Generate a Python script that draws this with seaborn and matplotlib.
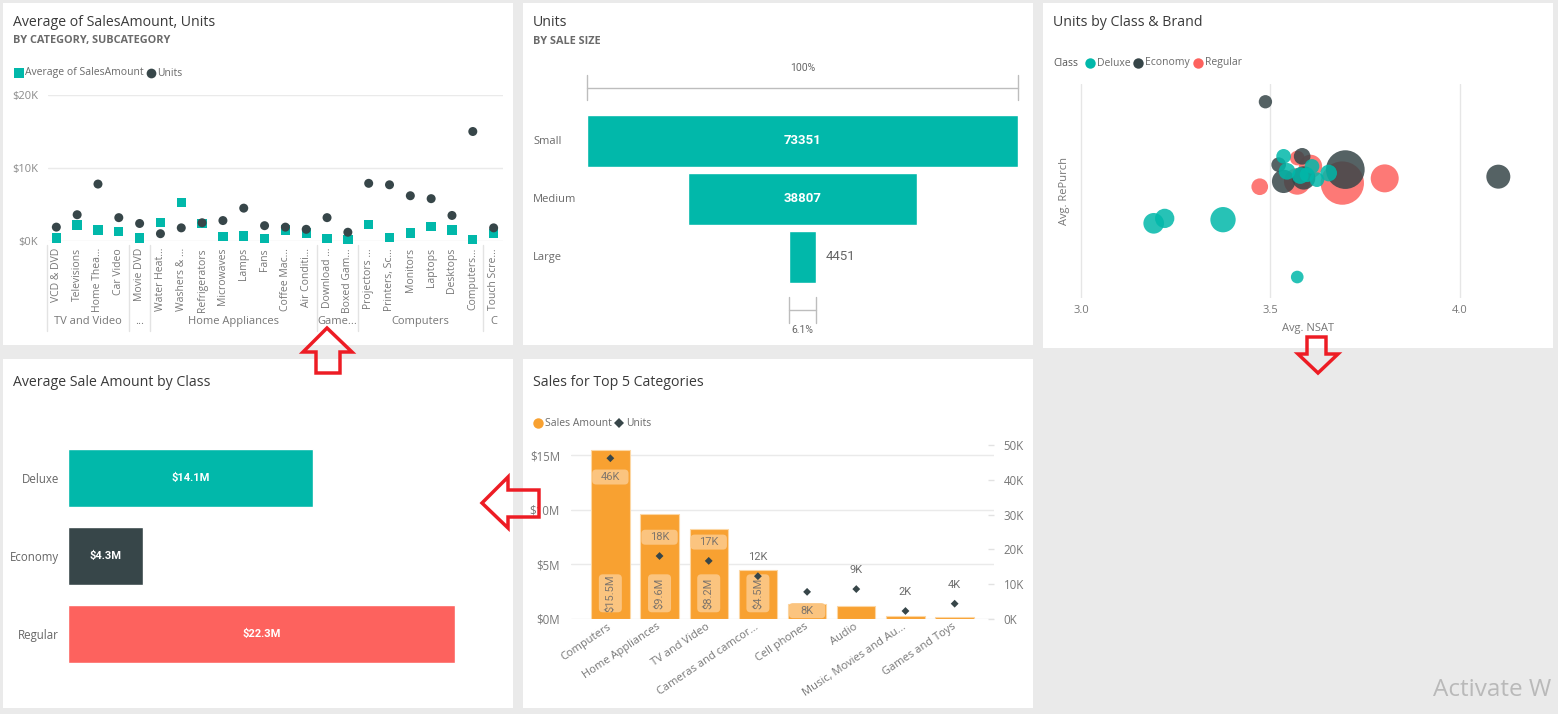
import numpy as np
import pandas as pd
import matplotlib
matplotlib.use("Agg")
import matplotlib.pyplot as plt
import matplotlib.transforms as mtransforms
from matplotlib.patches import Rectangle, Polygon, FancyBboxPatch
from matplotlib.lines import Line2D
import seaborn as sns

# ---------------- data ----------------
# Panel 1: Average of SalesAmount, Units by category / subcategory
sub_categories = ["VCD & DVD", "Televisions", "Home Thea...", "Car Video", "Movie DVD",
                  "Water Heat...", "Washers & ...", "Refrigerators", "Microwaves", "Lamps",
                  "Fans", "Coffee Mac...", "Air Conditi...", "Download ...", "Boxed Gam...",
                  "Projectors ...", "Printers, Sc...", "Monitors", "Laptops", "Desktops",
                  "Computers...", "Touch Scre..."]
sub_groups = ["TV and Video", "TV and Video", "TV and Video", "TV and Video", "...",
              "Home Appliances", "Home Appliances", "Home Appliances", "Home Appliances",
              "Home Appliances", "Home Appliances", "Home Appliances", "Home Appliances",
              "Game...", "Game...", "Computers", "Computers", "Computers", "Computers",
              "Computers", "Computers", "C"]
avg_sales_amount = [400, 2200, 1500, 1300, 400, 2500, 5300, 2400, 600, 700, 350,
                    1500, 1100, 300, 200, 2300, 500, 1100, 2000, 1500, 200, 1000]
sub_units = [1900, 3600, 7800, 3200, 2400, 1000, 1800, 2500, 2800, 4500, 2100,
             1900, 1600, 3200, 1200, 7900, 7700, 6200, 5800, 3500, 15000, 1800]

# Panel 2: Units by sale size (funnel)
sale_sizes = ["Small", "Medium", "Large"]
sale_size_units = [73351, 38807, 4451]

# Panel 3: Units by Class & Brand (bubbles)
bubble_class = ["Regular", "Regular", "Regular", "Regular", "Regular", "Regular",
                "Economy", "Economy", "Economy", "Economy", "Economy", "Economy", "Economy",
                "Deluxe", "Deluxe", "Deluxe", "Deluxe", "Deluxe", "Deluxe", "Deluxe",
                "Deluxe", "Deluxe", "Deluxe", "Deluxe"]
bubble_nsat = [3.472, 3.690, 3.802, 3.571, 3.571, 3.606,
               3.487, 3.698, 4.102, 3.584, 3.522, 3.535, 3.588,
               3.571, 3.192, 3.221, 3.375, 3.535, 3.544, 3.579, 3.610, 3.597, 3.623, 3.654]
bubble_repurch = [0.520, 0.537, 0.559, 0.654, 0.545, 0.615,
                  0.917, 0.600, 0.567, 0.662, 0.623, 0.545, 0.561,
                  0.098, 0.349, 0.372, 0.366, 0.662, 0.592, 0.572, 0.615, 0.576, 0.553, 0.584]
bubble_units = [625, 4225, 1764, 484, 1600, 1225,
                400, 3364, 1296, 625, 484, 1225, 1225,
                361, 961, 841, 1444, 484, 625, 625, 484, 484, 484, 625]

# Panel 4: Average sale amount by class ($M)
classes = ["Deluxe", "Economy", "Regular"]
class_avg_sales_m = [14.1, 4.3, 22.3]

# Panel 5: Sales for top categories
top_categories = ["Computers", "Home Appliances", "TV and Video", "Cameras and camcor...",
                  "Cell phones", "Audio", "Music, Movies and Au...", "Games and Toys"]
cat_sales_m = [15.5, 9.6, 8.2, 4.46, 1.34, 1.16, 0.24, 0.15]
cat_units_k = [46.2, 18.1, 16.7, 12.3, 7.8, 8.6, 2.3, 4.4]
unit_label_above = [False, True, True, True, False, True, True, True]

# ---------------- style ----------------
sns.set_theme(style="white")
plt.rcParams["font.family"] = ["Open Sans", "DejaVu Sans"]
NUM_FONT = ["Roboto", "DejaVu Sans"]

TEAL = "#01B8AA"
DARK = "#374649"
RED = "#FD625E"
ORANGE = "#F8A131"
TITLE_C = "#3A3A3A"
SUB_C = "#6A6A6A"
LBL_C = "#777777"
GRID_C = "#EAEAEA"

W, H = 1558, 714
fig = plt.figure(figsize=(W / 100, H / 100), dpi=100)
fig.patch.set_facecolor("#EAEAEA")


def px_axes(x0, y0, x1, y1):
    ax = fig.add_axes([x0 / W, 1 - y1 / H, (x1 - x0) / W, (y1 - y0) / H])
    ax.set_facecolor("none")
    return ax


def ftext(x, y, s, **kw):
    kw.setdefault("va", "center")
    return fig.text(x / W, 1 - y / H, s, **kw)


def fmarker(x, y, marker, color, ms):
    fig.add_artist(Line2D([x / W], [1 - y / H], marker=marker, color=color, markersize=ms,
                          linestyle="none", markeredgewidth=0, transform=fig.transFigure))


def panel(x0, y0, x1, y1):
    fig.add_artist(Rectangle((x0 / W, 1 - y1 / H), (x1 - x0) / W, (y1 - y0) / H,
                             transform=fig.transFigure, facecolor="white",
                             edgecolor="none", zorder=-5))


panel(3, 3, 513, 345)
panel(523, 3, 1033, 345)
panel(1043, 3, 1553, 348)
panel(3, 359, 513, 708)
panel(523, 359, 1033, 708)

# ================= Panel 1 =================
ftext(13, 23, "Average of SalesAmount, Units", fontsize=10.2, color=TITLE_C)
ftext(13, 41, "BY CATEGORY, SUBCATEGORY", fontsize=7.8, color=SUB_C, fontweight="bold")
fmarker(18.5, 73, "s", TEAL, 7)
ftext(25, 73, "Average of SalesAmount", fontsize=7.5, color=SUB_C)
fmarker(151, 73, "o", DARK, 7)
ftext(157, 73, "Units", fontsize=7.5, color=SUB_C)

ax1 = px_axes(48, 95, 503, 241)
pos1 = np.arange(len(sub_categories))
df1 = pd.DataFrame({"pos": pos1, "sub": sub_categories, "grp": sub_groups,
                    "avg": avg_sales_amount, "units": sub_units})
sns.scatterplot(data=df1, x="pos", y="avg", marker="s", color=TEAL, s=45,
                edgecolor="none", ax=ax1, zorder=3, clip_on=False)
sns.scatterplot(data=df1, x="pos", y="units", marker="o", color=DARK, s=42,
                edgecolor="none", ax=ax1, zorder=4, clip_on=False)
ax1.set_xlim(-0.4, 21.45)
ax1.set_ylim(0, 20000)
ax1.set_yticks([0, 10000, 20000])
ax1.set_yticklabels(["$0K", "$10K", "$20K"])
ax1.set_xticks(pos1)
ax1.set_xticklabels(sub_categories, rotation=90, va="top")
ax1.tick_params(axis="y", length=0, pad=7, labelsize=8, labelcolor="#8A8A8A")
ax1.tick_params(axis="x", length=0, pad=5, labelsize=7.5, labelcolor=LBL_C)
ax1.grid(axis="y", color=GRID_C, lw=1)
ax1.grid(axis="x", visible=False)
ax1.set_xlabel("")
ax1.set_ylabel("")
sns.despine(ax=ax1, left=True, bottom=True)

tr1 = mtransforms.blended_transform_factory(ax1.transData, fig.transFigure)
grp_names = list(dict.fromkeys(sub_groups))
for gname in grp_names:
    idx = [i for i, g in enumerate(sub_groups) if g == gname]
    left = idx[0] - 0.5 if idx[0] > 0 else -0.45
    fig.add_artist(Line2D([left, left], [1 - 245 / H, 1 - 331 / H], color="#E3E3E3",
                          lw=1, transform=tr1))
    fig.text(np.mean(idx), 1 - 322 / H, gname, transform=tr1, ha="center", va="center",
             fontsize=8, color=LBL_C)

# ================= Panel 2 (funnel) =================
ftext(533, 23, "Units", fontsize=10.2, color=TITLE_C)
ftext(533, 41, "BY SALE SIZE", fontsize=7.8, color=SUB_C, fontweight="bold")

axF = px_axes(587, 112, 1018, 286)
fu = np.array(sale_size_units, dtype=float)
ypos = np.arange(len(sale_sizes))
axF.barh(ypos, fu, left=-fu / 2, height=0.897, color=TEAL)
axF.set_xlim(-fu.max() / 2, fu.max() / 2)
axF.set_ylim(len(sale_sizes) - 0.5, -0.5)
axF.axis("off")
trF = mtransforms.blended_transform_factory(axF.transData, fig.transFigure)
for i, (name, v) in enumerate(zip(sale_sizes, fu)):
    yc = axF.transData.transform((0, i))[1]
    fig.text(533 / W, yc / (H), name, fontsize=8, color=SUB_C, va="center", ha="left")
    if v / fu.max() > 0.2:
        axF.text(0, i, f"{int(v)}", color="white", fontweight="bold", ha="center",
                 va="center", fontsize=9.5, family=NUM_FONT)
    else:
        axF.annotate(f"{int(v)}", xy=(v / 2, i), xytext=(7, 0), textcoords="offset points",
                     color="#666666", ha="left", va="center", fontsize=9.5, family=NUM_FONT)

BR_C = "#BDBDBD"
top_half = fu[0] / 2
fig.add_artist(Line2D([-top_half, top_half], [1 - 88 / H, 1 - 88 / H], color=BR_C, lw=1, transform=trF))
for xx in (-top_half, top_half):
    fig.add_artist(Line2D([xx, xx], [1 - 75 / H, 1 - 100 / H], color=BR_C, lw=1, transform=trF))
fig.text(0, 1 - 68 / H, f"{fu[0] / fu[0] * 100:.0f}%", transform=trF, ha="center",
         va="center", fontsize=7.5, color="#666666", family=NUM_FONT)
last_half = fu[-1] / 2
fig.add_artist(Line2D([-last_half, last_half], [1 - 310 / H, 1 - 310 / H], color=BR_C, lw=1, transform=trF))
for xx in (-last_half, last_half):
    fig.add_artist(Line2D([xx, xx], [1 - 297 / H, 1 - 323 / H], color=BR_C, lw=1, transform=trF))
fig.text(0, 1 - 330 / H, f"{fu[-1] / fu[0] * 100:.1f}%", transform=trF, ha="center",
         va="center", fontsize=7.5, color="#666666", family=NUM_FONT)

# ================= Panel 3 (bubbles) =================
ftext(1053, 23, "Units by Class & Brand", fontsize=10.2, color=TITLE_C)
ftext(1053, 63, "Class", fontsize=7.5, color="#555555")
fmarker(1090, 63, "o", TEAL, 7.5)
ftext(1097, 63, "Deluxe", fontsize=7.5, color=SUB_C)
fmarker(1138, 63, "o", DARK, 7.5)
ftext(1145, 63, "Economy", fontsize=7.5, color=SUB_C)
fmarker(1198, 63, "o", RED, 7.5)
ftext(1205, 63, "Regular", fontsize=7.5, color=SUB_C)

ax3 = px_axes(1071, 84, 1545, 298)
df3 = pd.DataFrame({"cls": bubble_class, "nsat": bubble_nsat, "repurch": bubble_repurch,
                    "units": bubble_units})
sns.scatterplot(data=df3, x="nsat", y="repurch", hue="cls",
                hue_order=["Deluxe", "Economy", "Regular"], palette=[TEAL, DARK, RED],
                size="units", sizes=(0, 973), size_norm=(0, max(bubble_units)),
                alpha=0.85, edgecolor="none", legend=False, ax=ax3, zorder=3)
ax3.set_xlim(3.0 - 10 / 378.7, 3.0 + 474 / 378.7 - 10 / 378.7)
ax3.set_ylim(0, 1)
ax3.set_xticks([3.0, 3.5, 4.0])
ax3.set_xticklabels(["3.0", "3.5", "4.0"])
ax3.set_yticks([])
ax3.tick_params(axis="x", length=0, pad=5, labelsize=8, labelcolor=LBL_C)
ax3.grid(axis="x", color="#E6E6E6", lw=1)
ax3.set_axisbelow(True)
ax3.set_xlabel("")
ax3.set_ylabel("")
sns.despine(ax=ax3, left=True, bottom=True)
ftext(1308, 329, "Avg. NSAT", fontsize=8, color=LBL_C, ha="center")
ftext(1065, 191, "Avg. RePurch", fontsize=8, color=LBL_C, ha="center", rotation=90)

# ================= Panel 4 =================
ftext(13, 383, "Average Sale Amount by Class", fontsize=10.2, color=TITLE_C)
ax4 = px_axes(68, 439, 490, 673)
df4 = pd.DataFrame({"cls": classes, "amt": class_avg_sales_m})
sns.barplot(data=df4, x="amt", y="cls", hue="cls", palette=[TEAL, DARK, RED],
            orient="h", width=0.756, saturation=1, legend=False, ax=ax4)
ax4.set_xlim(0, 24.3)
ax4.set_ylim(len(classes) - 0.5, -0.5)
ax4.set_xticks([])
ax4.tick_params(axis="y", length=0, pad=6.5, labelsize=8.3, labelcolor="#666666")
ax4.set_xlabel("")
ax4.set_ylabel("")
sns.despine(ax=ax4, left=True, bottom=True)
for i, v in enumerate(class_avg_sales_m):
    ax4.text(v / 2, i, f"${v:.1f}M", color="white", fontweight="bold", ha="center",
             va="center", fontsize=8, family=NUM_FONT)

# ================= Panel 5 =================
ftext(533, 383, "Sales for Top 5 Categories", fontsize=10.2, color=TITLE_C)
fmarker(538, 423, "o", ORANGE, 7.5)
ftext(545, 423, "Sales Amount", fontsize=7.5, color=SUB_C)
fmarker(619, 423, "D", DARK, 5.5)
ftext(626, 423, "Units", fontsize=7.5, color=SUB_C)

ax5 = px_axes(571, 445, 994, 619)
pos5 = np.arange(len(top_categories))
df5 = pd.DataFrame({"cat": top_categories, "sales": cat_sales_m, "units": cat_units_k,
                    "pos": pos5})
sns.barplot(data=df5, x="cat", y="sales", color=ORANGE, saturation=1, width=0.78,
            edgecolor="#FCD7A4", linewidth=0.8, ax=ax5, zorder=2)
ax5.set_ylim(0, 15.915)
ax5.set_yticks([0, 5, 10, 15])
ax5.set_yticklabels(["$0M", "$5M", "$10M", "$15M"])
ax5.tick_params(axis="y", length=0, pad=8, labelsize=8.3, labelcolor=LBL_C)
ax5.set_xticks(pos5)
ax5.set_xticklabels(top_categories, rotation=34, ha="right", va="center",
                    rotation_mode="anchor")
ax5.tick_params(axis="x", length=0, pad=5, labelsize=8, labelcolor=LBL_C)
ax5.grid(axis="y", color=GRID_C, lw=1)
ax5.grid(axis="x", visible=False)
ax5.set_axisbelow(True)
ax5.set_xlabel("")
ax5.set_ylabel("")
sns.despine(ax=ax5, left=True, bottom=True)

ax5r = ax5.twinx()
sns.scatterplot(data=df5, x="pos", y="units", marker="D", color=DARK, s=16,
                edgecolor="none", ax=ax5r, zorder=5)
ax5r.set_ylim(0, 50)
ax5r.set_yticks([0, 10, 20, 30, 40, 50])
ax5r.set_yticklabels(["0K", "10K", "20K", "30K", "40K", "50K"])
ax5r.tick_params(axis="y", direction="in", length=4.5, width=1, color="#E2E2E2", pad=7,
                 labelsize=8.3, labelcolor=LBL_C)
ax5r.set_ylabel("")
ax5r.set_xlabel("")
for sp in ax5r.spines.values():
    sp.set_visible(False)
ax5.set_xlim(-0.8, 7.8)
ax5r.set_xlim(-0.8, 7.8)

BOX_C = "#FBC47F"
BOX_TXT = "#80766C"
ident = mtransforms.IdentityTransform()
for i, (s_m, u_k, above) in enumerate(zip(cat_sales_m, cat_units_k, unit_label_above)):
    # unit data label
    ly = u_k + 5.4 if above else u_k - 5.4
    inside = (ly / 50) < (s_m / 15.915)
    cx, cy = ax5r.transData.transform((i, ly))
    if inside:
        hw = ax5.transData.transform((i + 0.37, 0))[0] - cx
        ax5r.add_artist(FancyBboxPatch((cx - hw, cy - 7.5), 2 * hw, 15,
                                       boxstyle="round,pad=0,rounding_size=4",
                                       transform=ident, facecolor=BOX_C,
                                       edgecolor="none", zorder=4))
        ax5r.text(i, ly, f"{u_k:.0f}K", ha="center", va="center", fontsize=8,
                  color=BOX_TXT, family=NUM_FONT, zorder=6)
    else:
        ax5r.text(i, ly, f"{u_k:.0f}K", ha="center", va="center", fontsize=8,
                  color="#6E6E6E", family=NUM_FONT, zorder=6)
    # sales data label (rotated, inside tall bars)
    if s_m > 3.5:
        sy = 2.35
        bx, by = ax5.transData.transform((i, sy))
        ax5.add_artist(FancyBboxPatch((bx - 11.5, by - 19), 23, 38,
                                      boxstyle="round,pad=0,rounding_size=4",
                                      transform=ident, facecolor=BOX_C,
                                      edgecolor="none", zorder=4))
        ax5.text(i, sy, f"${s_m:.1f}M", ha="center", va="center", rotation=90,
                 fontsize=8, color=BOX_TXT, family=NUM_FONT, zorder=6)

# ================= overlays: red arrows and watermark =================
ARROW_C = "#ED1C24"
arrows = [
    [(327, 328), (352, 352), (340, 352), (340, 373), (316, 373), (316, 352), (303, 352)],
    [(482, 503), (508, 477), (508, 490), (539, 490), (539, 517), (508, 517), (508, 528)],
    [(1318, 373), (1338, 354), (1326, 354), (1326, 337), (1307, 337), (1307, 354), (1298, 354)],
]
for pts in arrows:
    fig.add_artist(Polygon([(x / W, 1 - y / H) for x, y in pts], closed=True,
                           transform=fig.transFigure, facecolor="none",
                           edgecolor=ARROW_C, lw=2.5, joinstyle="miter", zorder=10))

ftext(1433, 690, "Activate W", fontsize=17.5, color="#B9B9B9", ha="left")

fig.savefig("out.png", dpi=100, facecolor=fig.get_facecolor())
